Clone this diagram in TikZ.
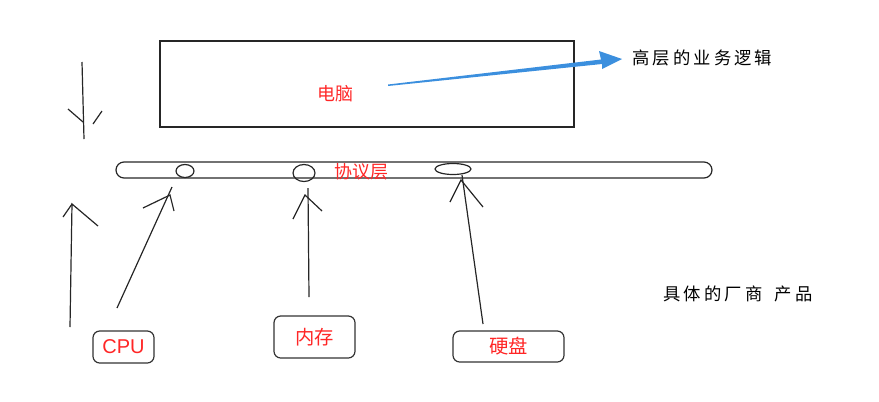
\documentclass[tikz,border=0pt]{standalone}
\usepackage{fontspec}
\usetikzlibrary{shapes.geometric}
\setmainfont{Liberation Sans}
\newfontfamily\cjk{Noto Sans CJK SC}
\definecolor{arrowblue}{RGB}{59,143,222}
\begin{document}
\begin{tikzpicture}[x=0.75pt,y=-0.75pt,
  pen/.style={draw=black!85,line width=0.9pt},
  redtxt/.style={text=red!85!white,font=\cjk\fontsize{13.5}{14}\selectfont,inner sep=0pt},
  blktxt/.style={text=black,font=\cjk\fontsize{13}{14}\selectfont,inner sep=0pt},
  boxlbl/.style={draw=black!80,line width=0.9pt,rounded corners=5pt},
  hole/.style={draw=black!85,line width=0.9pt,ellipse,inner sep=0pt}]
\useasboundingbox (0,0) rectangle (879,401);
% computer box
\draw[pen] (160,41) rectangle (574,127);
\node[redtxt] (pc) at (335,94) {电脑};
% blue arrow
\coordinate (bs) at (388,85);
\coordinate (bt) at (622,59);
\fill[arrowblue] (388,84.5) -- (601,59.5) -- (599,51) -- (bt) -- (602,69) -- (602,64) -- (388,86) -- cycle;
\node[blktxt,anchor=west] (high) at (632,58) {\addfontfeature{LetterSpace=18}高层的业务逻辑};
% left down arrow
\coordinate (d1) at (82,62);
\coordinate (d2) at (84,139);
\draw[pen] (d1) -- (d2);
\draw[pen] (68,109) -- (83,122);
\draw[pen] (102,111) -- (93,124);
% left up arrow
\coordinate (u1) at (70,327);
\coordinate (u2) at (72,204);
\draw[pen] (u1) -- (u2) -- (98,226);
\draw[pen] (63,217) -- (u2);
% bus
\draw[pen,rounded corners=6pt] (116,162) rectangle (712,178);
\node[redtxt] (proto) at (361,172) {协议层};
% holes
\node[hole,minimum width=13.5pt,minimum height=9.75pt] (h1) at (185,171) {};
\node[hole,minimum width=16.5pt,minimum height=12.75pt] (h2) at (304,173) {};
\node[hole,minimum width=27pt,minimum height=8.25pt] (h3) at (453,169) {};
% boxes
\node[boxlbl,minimum width=45.75pt,minimum height=24pt] (cpu) at (123.5,347) {};
\node[redtxt,font=\fontsize{15}{16}\selectfont] at (cpu) {CPU};
\node[boxlbl,minimum width=60.75pt,minimum height=31.5pt] (mem) at (314.5,337) {};
\node[redtxt,font=\cjk\fontsize{14.5}{16}\selectfont] at (mem) {内存};
\node[boxlbl,minimum width=83.25pt,minimum height=23.25pt] (disk) at (508.5,346.5) {};
\node[redtxt,font=\cjk\fontsize{14.5}{16}\selectfont] at (disk) {硬盘};
% connectors with hand-drawn heads
\coordinate (c0) at (117,308);
\coordinate (c1) at (172,187);
\draw[pen] (c0) -- (c1);
\draw[pen] (143,208) -- (170,195) -- (174,211);
\coordinate (m0) at (309,297);
\coordinate (m1) at (308,188);
\draw[pen] (m0) -- (m1);
\draw[pen] (293,219) -- (305,195) -- (322,211);
\coordinate (k0) at (483,324);
\coordinate (k1) at (462,175);
\draw[pen] (k0) -- (k1);
\draw[pen] (450,202) -- (461,180) -- (483,207);
\node[blktxt,anchor=west] (vend) at (663,294) {\addfontfeature{LetterSpace=18}具体的厂商\hspace{4pt} 产品};
\end{tikzpicture}
\end{document}
